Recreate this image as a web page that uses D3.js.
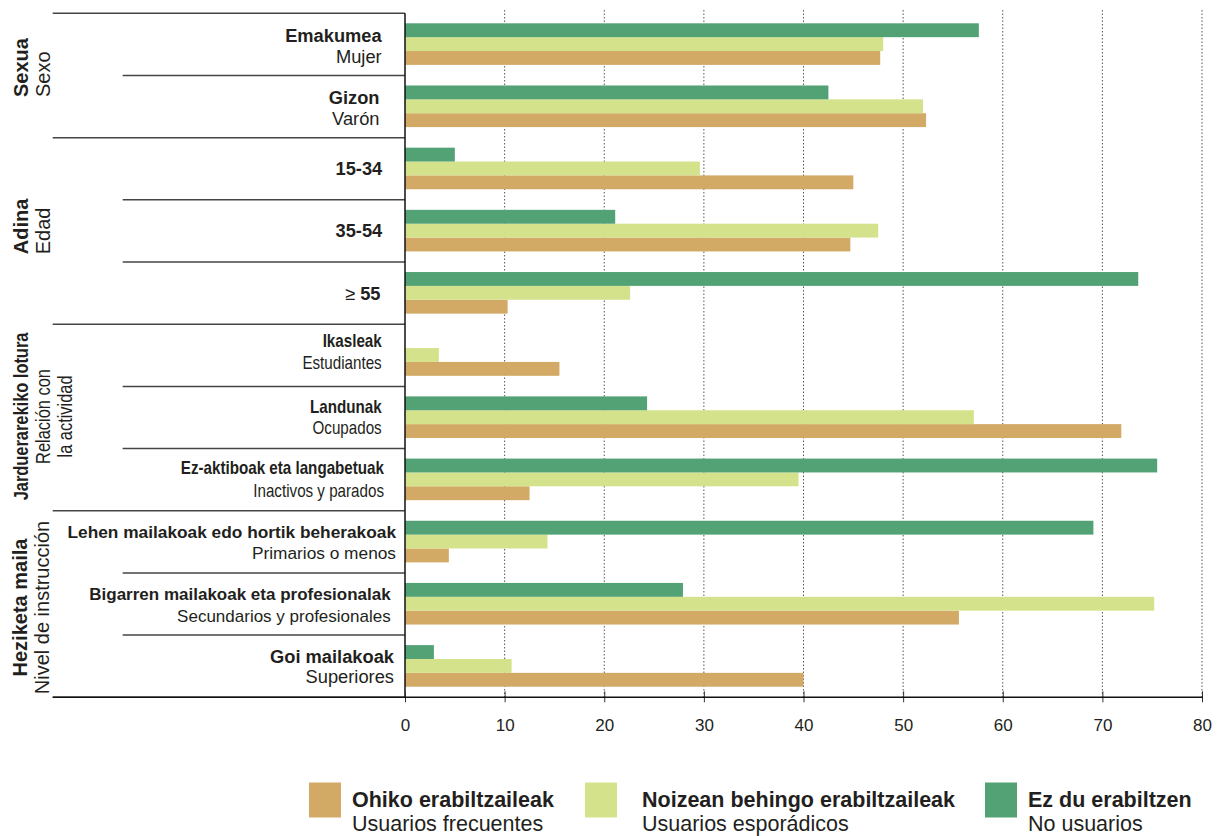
<!DOCTYPE html>
<html>
<head>
<meta charset="utf-8">
<script src="https://cdn.jsdelivr.net/npm/d3@7"></script>
<style>
  html, body { margin: 0; padding: 0; background: #ffffff; }
  svg { display: block; }
  text { font-family: "Liberation Sans", Arial, sans-serif; fill: #231f20; }
</style>
</head>
<body>
<svg id="chart" width="1221" height="836"></svg>
<script>
// ---------------- DATA ----------------
const groupsEu = ["Sexua", "Adina", "Jarduerarekiko lotura", "Heziketa maila"];
const groupsEs = [["Sexo"], ["Edad"], ["Relación con", "la actividad"], ["Nivel de instrucción"]];

const categoriesEu = ["Emakumea", "Gizon", "15-34", "35-54", "≥ 55",
  "Ikasleak", "Landunak", "Ez-aktiboak eta langabetuak",
  "Lehen mailakoak edo hortik beherakoak", "Bigarren mailakoak eta profesionalak", "Goi mailakoak"];
const categoriesEs = ["Mujer", "Varón", "", "", "",
  "Estudiantes", "Ocupados", "Inactivos y parados",
  "Primarios o menos", "Secundarios y profesionales", "Superiores"];
const categoryGroup = [0, 0, 1, 1, 1, 2, 2, 2, 3, 3, 3];

// Ohiko erabiltzaileak / Usuarios frecuentes
const frecuentes  = [47.7, 52.3, 45.0, 44.7, 10.3, 15.5, 71.9, 12.5, 4.4, 55.6, 40.0];
// Noizean behingo erabiltzaileak / Usuarios esporádicos
const esporadicos = [48.0, 52.0, 29.6, 47.5, 22.6, 3.4, 57.1, 39.5, 14.3, 75.2, 10.7];
// Ez du erabiltzen / No usuarios
const noUsuarios  = [57.6, 42.5, 5.0, 21.1, 73.6, null, 24.3, 75.5, 69.1, 27.9, 2.9];

const seriesEu = ["Ohiko erabiltzaileak", "Noizean behingo erabiltzaileak", "Ez du erabiltzen"];
const seriesEs = ["Usuarios frecuentes", "Usuarios esporádicos", "No usuarios"];

const xTicks = [0, 10, 20, 30, 40, 50, 60, 70, 80];

// ---------------- STYLE ----------------
const colors = { frec: "#d2aa66", esp: "#d4e28b", no: "#53a275" };
const seriesKeys = ["frec", "esp", "no"];
const seriesValues = { frec: frecuentes, esp: esporadicos, no: noUsuarios };

const svg = d3.select("#chart");

const x = d3.scaleLinear().domain([0, 80]).range([405, 1202]);
const rows = d3.scaleBand().domain(d3.range(categoriesEu.length)).range([13.3, 697.3]).padding(0);
const inner = d3.scaleBand().domain(["no", "esp", "frec"]).range([10, 51.6]).padding(0);

// condensed look (Arial Narrow-like) by compressing glyphs horizontally
function narrow(sel) {
  sel.each(function () {
    const L = this.getComputedTextLength();
    d3.select(this).attr("textLength", L * 0.82).attr("lengthAdjust", "spacingAndGlyphs");
  });
  return sel;
}

// ---------------- GRIDLINES ----------------
svg.append("g").selectAll("line")
  .data(xTicks.filter(d => d > 0))
  .join("line")
  .attr("x1", d => x(d)).attr("x2", d => x(d))
  .attr("y1", 10).attr("y2", 697)
  .attr("stroke", "#555").attr("stroke-width", 1)
  .attr("stroke-dasharray", "1.5,2");

// ---------------- BARS ----------------
const barG = svg.append("g");
seriesKeys.forEach(k => {
  barG.append("g").selectAll("rect")
    .data(seriesValues[k].map((v, i) => ({ v, i })).filter(d => d.v != null))
    .join("rect")
    .attr("x", x(0))
    .attr("y", d => rows(d.i) + inner(k))
    .attr("width", d => x(d.v) - x(0))
    .attr("height", inner.bandwidth())
    .attr("fill", colors[k]);
});

// ---------------- SEPARATORS & AXES ----------------
const boundaries = d3.range(categoriesEu.length + 1);
svg.append("g").selectAll("line")
  .data(boundaries)
  .join("line")
  .attr("x1", i => (i === 0 || i === categoriesEu.length || categoryGroup[i] !== categoryGroup[i - 1]) ? 52.7 : 122.7)
  .attr("x2", x(0))
  .attr("y1", i => 13.3 + rows.step() * i)
  .attr("y2", i => 13.3 + rows.step() * i)
  .attr("stroke", "#444").attr("stroke-width", 1.5);

// vertical axis line
svg.append("line")
  .attr("x1", x(0)).attr("x2", x(0))
  .attr("y1", 13.3).attr("y2", 697.3)
  .attr("stroke", "#111").attr("stroke-width", 1.5);

// bottom axis
const axisG = svg.append("g")
  .attr("transform", "translate(0,697.3)")
  .call(d3.axisBottom(x).tickValues(xTicks).tickSizeInner(6).tickSizeOuter(0).tickPadding(15.5));
axisG.select(".domain").remove();
axisG.selectAll(".tick line").attr("y1", -6).attr("y2", 5).attr("stroke", "#333");
axisG.selectAll(".tick text")
  .style("font-family", '"Liberation Sans", Arial, sans-serif')
  .style("font-size", "17px").attr("fill", "#231f20");
svg.append("line")
  .attr("x1", 52.7).attr("x2", 1203)
  .attr("y1", 697.3).attr("y2", 697.3)
  .attr("stroke", "#111").attr("stroke-width", 1.5);

// ---------------- CATEGORY LABELS ----------------
// per-row label layout (style only)
const labelStyle = [
  { size: 18.3, right: 381.7, d1: -2.7, d2: 18.5, narrow: false },
  { size: 18.3, right: 379.5, d1: -2.6, d2: 18.4, narrow: false },
  { size: 18.3, right: 382.3, d1: 6.2, d2: 0, narrow: false },
  { size: 18.3, right: 382.3, d1: 6.0, d2: 0, narrow: false },
  { size: 18.3, right: 380.5, d1: 6.8, d2: 0, narrow: false },
  { size: 18.5, right: 381.7, d1: -8.1, d2: 13.6, narrow: true },
  { size: 18.5, right: 381.7, d1: -4.9, d2: 16.4, narrow: true },
  { size: 18.5, right: 384.0, d1: -5.8, d2: 16.9, narrow: true },
  { size: 17.3, right: 396.0, d1: -3.7, d2: 17.3, narrow: false },
  { size: 17.0, right: 390.7, d1: -4.2, d2: 17.5, narrow: false },
  { size: 18.3, right: 394.0, d1: -3.7, d2: 16.9, narrow: false }
];

const labG = svg.append("g");
categoriesEu.forEach((eu, i) => {
  const st = labelStyle[i];
  const cy = rows(i) + rows.bandwidth() / 2;
  const t1 = labG.append("text")
    .attr("x", st.right).attr("y", cy + st.d1)
    .attr("text-anchor", "end")
    .style("font-size", st.size + "px")
    .style("font-weight", "bold");
  if (eu.startsWith("≥")) {
    t1.append("tspan").style("font-weight", "normal").text("≥");
    t1.append("tspan").text(eu.slice(1));
  } else {
    t1.text(eu);
  }
  if (st.narrow) narrow(t1);
  if (categoriesEs[i]) {
    const t2 = labG.append("text")
      .attr("x", st.right).attr("y", cy + st.d2)
      .attr("text-anchor", "end")
      .style("font-size", st.size + "px")
      .text(categoriesEs[i]);
    if (st.narrow) narrow(t2);
  }
});

// ---------------- GROUP LABELS (rotated) ----------------
const groupStyle = [
  { anchor: "start", off: 21.5, narrow: false, xs: [28.3, 50.0] },
  { anchor: "start", off: 23.3, narrow: false, xs: [28.3, 50.0] },
  { anchor: "middle", off: -1, narrow: true, xs: [28.3, 50.0, 71.8] },
  { anchor: "middle", off: 3.5, narrow: false, xs: [27.0, 48.5] }
];
groupsEu.forEach((g, gi) => {
  const idx = categoryGroup.map((c, i) => c === gi ? i : -1).filter(i => i >= 0);
  const y0 = rows(idx[0]);
  const y1 = rows(idx[idx.length - 1]) + rows.bandwidth();
  const cy = (y0 + y1) / 2 + groupStyle[gi].off;
  const st = groupStyle[gi];
  const lines = [{ t: g, bold: true }].concat(groupsEs[gi].map(t => ({ t, bold: false })));
  lines.forEach((ln, li) => {
    const t = svg.append("text")
      .attr("transform", `translate(${st.xs[li]},${cy}) rotate(-90)`)
      .attr("text-anchor", st.anchor)
      .style("font-size", "20px")
      .style("font-weight", ln.bold ? "bold" : "normal")
      .text(ln.t);
    if (st.narrow) narrow(t);
  });
});

// ---------------- LEGEND ----------------
const legendPos = [
  { sx: 309, tx: 352 },
  { sx: 585, tx: 642 },
  { sx: 985, tx: 1028 }
];
const legend = svg.append("g");
seriesKeys.forEach((k, i) => {
  const p = legendPos[i];
  legend.append("rect")
    .attr("x", p.sx).attr("y", 782.5)
    .attr("width", 32).attr("height", 35)
    .attr("fill", colors[k]);
  legend.append("text")
    .attr("x", p.tx).attr("y", 807.3)
    .style("font-size", "21.5px").style("font-weight", "bold")
    .text(seriesEu[i]);
  legend.append("text")
    .attr("x", p.tx).attr("y", 831.3)
    .style("font-size", "21.5px")
    .text(seriesEs[i]);
});
</script>
</body>
</html>
